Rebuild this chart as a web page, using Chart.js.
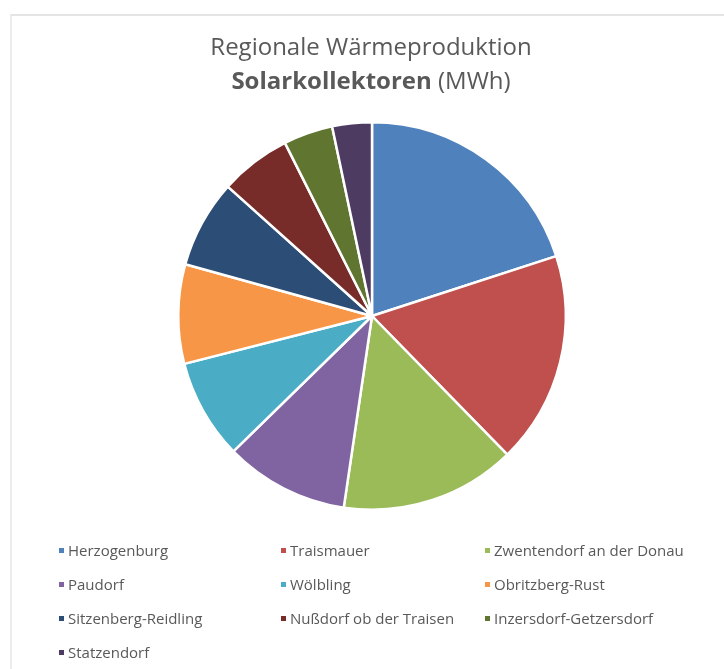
<!DOCTYPE html>
<html>
<head>
<meta charset="utf-8">
<script src="https://cdn.jsdelivr.net/npm/chart.js@4.4.1/dist/chart.umd.min.js"></script>
<style>
  body { margin: 0; background: #fff; }
  #wrap { position: relative; width: 724px; height: 669px; overflow: hidden; }
  #rahmen { position: absolute; left: 10px; top: 14px; width: 730px; height: 700px;
            border-top: 2px solid #e4e4e4; border-left: 2px solid #ececec; }
  #grafik { position: absolute; left: 0; top: 0; }
  #legende { position: absolute; left: 0; top: 0; width: 724px; height: 669px;
             font-family: "Open Sans", sans-serif; font-size: 15px; color: #595959; }
  .eintrag { position: absolute; white-space: nowrap; line-height: 20px; }
  .eintrag span.box { display: inline-block; width: 5px; height: 5px; margin-right: 4px;
                      vertical-align: middle; position: relative; top: -1px; }
</style>
</head>
<body>
<div id="wrap">
  <div id="rahmen"></div>
  <canvas id="grafik" width="724" height="530"></canvas>
  <div id="legende"></div>
</div>
<script>
const gemeinden = [
  "Herzogenburg", "Traismauer", "Zwentendorf an der Donau",
  "Paudorf", "Wölbling", "Obritzberg-Rust",
  "Sitzenberg-Reidling", "Nußdorf ob der Traisen", "Inzersdorf-Getzersdorf",
  "Statzendorf"
];
// Werte geschätzt aus dem Bild (MWh)
const waerme = [1000, 885, 732, 518, 417, 414, 367, 297, 206, 165];
const farben = [
  "#4F81BD", "#C0504D", "#9BBB59", "#8064A2", "#4BACC6",
  "#F79646", "#2C4D75", "#772C2A", "#5F7530", "#4D3B62"
];
const titelZeile1 = "Regionale Wärmeproduktion";
const titelFett = "Solarkollektoren";
const titelRest = " (MWh)";

// Titel mit fettem Teil selbst zeichnen
const titelPlugin = {
  id: "titel",
  afterDraw(c) {
    const ctx = c.ctx;
    ctx.save();
    ctx.fillStyle = "#595959";
    ctx.textBaseline = "middle";
    ctx.textAlign = "left";
    ctx.font = "24px 'Open Sans', sans-serif";
    let w = ctx.measureText(titelZeile1).width;
    ctx.fillText(titelZeile1, 371 - w / 2, 48);

    ctx.font = "bold 24px 'Open Sans', sans-serif";
    const w1 = ctx.measureText(titelFett).width;
    ctx.font = "24px 'Open Sans', sans-serif";
    const w2 = ctx.measureText(titelRest).width;
    const x0 = 371 - (w1 + w2) / 2;
    ctx.font = "bold 24px 'Open Sans', sans-serif";
    ctx.fillText(titelFett, x0, 82);
    ctx.font = "24px 'Open Sans', sans-serif";
    ctx.fillText(titelRest, x0 + w1, 82);
    ctx.restore();
  }
};

const chart = new Chart(document.getElementById("grafik").getContext("2d"), {
  type: "pie",
  data: {
    labels: gemeinden,
    datasets: [{
      data: waerme,
      backgroundColor: farben,
      borderColor: "#ffffff",
      borderWidth: 2.5
    }]
  },
  options: {
    responsive: false,
    animation: false,
    layout: { padding: { left: 177, right: 157, top: 121, bottom: 19 } },
    plugins: {
      legend: { display: false },
      title: { display: false },
      tooltip: { enabled: false }
    }
  },
  plugins: [titelPlugin]
});

// Legende als HTML, drei Spalten
const spalten = [59, 281, 485];
const zeilen = [550, 584, 618, 652];
const legende = document.getElementById("legende");
gemeinden.forEach((name, i) => {
  const d = document.createElement("div");
  d.className = "eintrag";
  d.style.left = spalten[i % 3] + "px";
  d.style.top = (zeilen[Math.floor(i / 3)] - 10) + "px";
  d.innerHTML = '<span class="box" style="background:' + farben[i] + '"></span>' + name;
  legende.appendChild(d);
});
</script>
</body>
</html>
